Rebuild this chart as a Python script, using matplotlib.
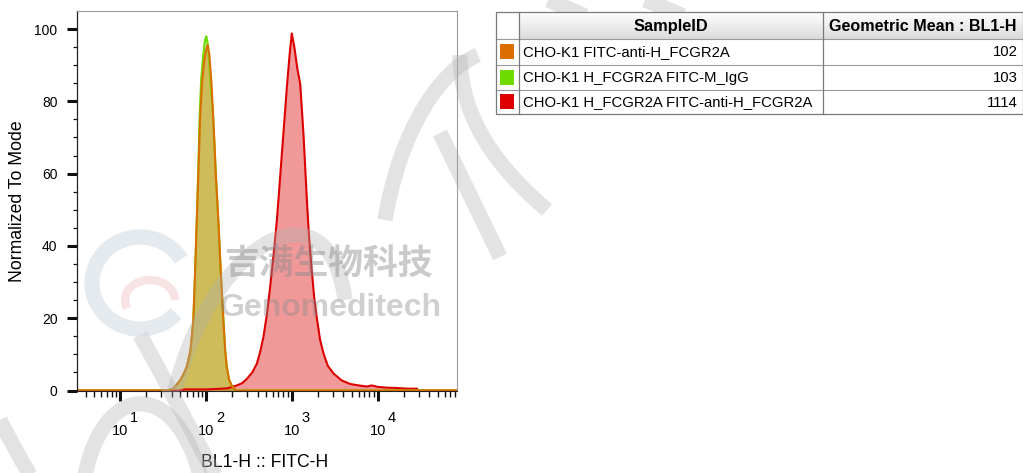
import numpy as np
import matplotlib
matplotlib.use("Agg")
import matplotlib.pyplot as plt
from matplotlib.patches import Rectangle, Arc, PathPatch
from matplotlib.path import Path
import matplotlib.transforms as mtransforms

plt.rcParams['font.family'] = ['Liberation Sans', 'DejaVu Sans']

# histogram traces, x in log10(BL1-H), y in % of mode
orange_logx = [0.50, 1.55, 1.62, 1.70, 1.74, 1.777, 1.82, 1.854, 1.875, 1.894, 1.915, 1.932,
               1.955, 1.98, 2.00, 2.02, 2.04, 2.065, 2.087, 2.115, 2.145, 2.175, 2.204,
               2.225, 2.243, 2.27, 2.30, 2.33, 2.36, 4.93]
orange_y = [0, 0, 0.5, 2.8, 4.5, 6.5, 11, 19.4, 33, 47, 62, 74.8,
            85, 91, 94, 95.6, 93, 85, 74.8, 60, 47, 32, 19.4,
            11, 6.5, 3, 1.4, 0.4, 0, 0]

green_logx = [0.50, 1.55, 1.62, 1.70, 1.74, 1.777, 1.82, 1.854, 1.875, 1.894, 1.912, 1.926,
              1.945, 1.97, 1.99, 2.005, 2.025, 2.05, 2.087, 2.115, 2.145, 2.175, 2.204,
              2.225, 2.243, 2.27, 2.30, 2.33, 2.36, 4.93]
green_y = [0, 0, 0.5, 2.8, 4.5, 6.5, 11, 19.4, 33, 47, 62, 75,
           86, 93, 97, 98, 95.5, 87, 74.8, 60, 47, 32, 19.4,
           11, 6.5, 3, 1.4, 0.4, 0, 0]

red_logx = [0.50, 1.70, 1.75, 2.0, 2.1, 2.25, 2.36, 2.42, 2.477, 2.54, 2.593, 2.63, 2.67,
            2.71, 2.748, 2.79, 2.826, 2.855, 2.885, 2.915, 2.943, 2.975, 3.00, 3.03,
            3.065, 3.098, 3.136, 3.176, 3.20, 3.23, 3.26, 3.29, 3.33, 3.37, 3.42, 3.49,
            3.58, 3.68, 3.78, 3.875, 3.93, 4.00, 4.10, 4.22, 4.35, 4.458, 4.47, 4.93]
red_y = [0, 0, 0.3, 0.3, 0.4, 0.6, 1.4, 2.0, 3.2, 5, 7.4, 10.5, 14.8,
         21, 28.6, 38, 47, 56, 65.6, 75, 84, 93, 98.8, 95,
         89, 84.9, 71, 52.6, 43, 34, 26, 20.3, 14, 10.2, 6.8, 4.6,
         2.8, 1.8, 1.4, 1.1, 1.4, 1.0, 0.8, 0.7, 0.5, 0.5, 0, 0]

sample_ids = ["CHO-K1 FITC-anti-H_FCGR2A",
              "CHO-K1 H_FCGR2A FITC-M_IgG",
              "CHO-K1 H_FCGR2A FITC-anti-H_FCGR2A"]
geo_means = ["102", "103", "1114"]
sample_colors = ["#dc6e00", "#6edc00", "#dc0000"]

W, H = 1023, 473
fig = plt.figure(figsize=(W / 100, H / 100), dpi=100)
ax = fig.add_axes([77.3 / W, 1 - 390.5 / H, 380 / W, 379.5 / H])

# draw red first, then green, orange on top
series = [(red_logx, red_y, sample_colors[2]),
          (green_logx, green_y, sample_colors[1]),
          (orange_logx, orange_y, sample_colors[0])]
for lx, yy, c in series:
    xx = np.power(10.0, lx)
    ax.fill_between(xx, yy, 0, color=c, alpha=0.4, lw=0)
    ax.plot(xx, yy, color=c, lw=1.5, solid_joinstyle='round')

ax.set_xscale('log')
ax.set_xlim(10 ** 0.503, 10 ** 4.927)
ax.set_ylim(0, 105)

ax.set_yticks([0, 20, 40, 60, 80, 100])
ax.set_yticks(np.arange(5, 105, 5), minor=True)
ax.tick_params(axis='y', which='major', direction='out', length=7.2, width=2.2,
               pad=7, labelsize=10, color='#111111')
ax.tick_params(axis='y', which='minor', direction='out', length=2.6, width=0.9, color='#111111')

ax.set_xticks([10, 100, 1000, 10000])
ax.xaxis.set_minor_locator(matplotlib.ticker.LogLocator(base=10, subs=np.arange(2, 10)))
ax.xaxis.set_minor_formatter(matplotlib.ticker.NullFormatter())
ax.set_xticklabels([])
ax.tick_params(axis='x', which='major', direction='out', length=7.5, width=2.2, color='#111111')
ax.tick_params(axis='x', which='minor', direction='out', length=4.3, width=1.0, color='#111111')

for side in ['top', 'right']:
    ax.spines[side].set_color('#9a9a9a')
    ax.spines[side].set_linewidth(0.8)
ax.spines['left'].set_color('#222222')
ax.spines['left'].set_linewidth(0.9)
ax.spines['bottom'].set_color('#222222')

# decade labels like 10^1 with a large raised exponent
trans = mtransforms.blended_transform_factory(ax.transData, ax.transAxes)
for d in [1, 2, 3, 4]:
    ax.annotate("10", xy=(10 ** d, 0), xycoords=trans, xytext=(0, -29.5),
                textcoords='offset points', ha='center', va='center', fontsize=10.5)
    ax.annotate(str(d), xy=(10 ** d, 0), xycoords=trans, xytext=(10.2, -20),
                textcoords='offset points', ha='center', va='center', fontsize=10.5)

fig.text(18 / W, 1 - 201 / H, "Normalized To Mode", rotation=90, ha='center', va='center', fontsize=12.7)
fig.text(265 / W, 1 - 462 / H, "BL1-H :: FITC-H", ha='center', va='center', fontsize=12.7)

# overlay axes in pixel units for the table and watermark
ov = fig.add_axes([0, 0, 1, 1], zorder=5)
ov.set_xlim(0, W)
ov.set_ylim(H, 0)
ov.axis('off')
ov.patch.set_alpha(0)

# watermark: logo, company name and faint hand-drawn strokes
ov.add_patch(Arc((140, 283), 96, 92, theta1=40, theta2=330, lw=11, color='#d5dce3', alpha=0.6, zorder=0.5))
ov.add_patch(Arc((150, 300), 50, 40, theta1=160, theta2=360, lw=6, color='#f0c8c8', alpha=0.5, zorder=0.5))
ov.text(329, 263, "吉满生物科技", ha='center', va='center', fontsize=25, fontweight='bold',
        color='#8a8a8a', alpha=0.45, family=['Noto Sans CJK SC', 'DejaVu Sans'], zorder=0.6)
ov.text(331, 308, "Genomeditech", ha='center', va='center', fontsize=23, fontweight='bold',
        color='#8a8a8a', alpha=0.4, zorder=0.6)

strokes = [
    [(0, 420), (10, 440), (20, 458), (30, 475)],
    [(85, 475), (105, 380), (175, 380), (200, 475)],
    [(140, 335), (165, 380), (190, 428), (215, 475)],
    [(175, 390), (215, 235), (330, 180), (345, 300)],
    [(385, 220), (400, 130), (440, 70), (478, 55)],
    [(460, 55), (460, 120), (500, 170), (547, 210)],
    [(440, 133), (460, 175), (480, 215), (500, 257)],
    [(548, 0), (560, 5), (572, 10), (585, 16)],
    [(645, 0), (658, 5), (670, 10), (683, 16)],
]
for pts in strokes:
    path = Path(pts, [Path.MOVETO, Path.CURVE4, Path.CURVE4, Path.CURVE4])
    ov.add_patch(PathPatch(path, fill=False, ec='#b0b0b0', lw=11, alpha=0.35,
                           capstyle='butt', zorder=0.4))

# table
x0, x1, x2, x3 = 496, 518.5, 822.7, 1022.5
row_edges = [12.3, 39, 65, 90, 114]
ov.add_patch(Rectangle((x0, row_edges[0]), x3 - x0, row_edges[-1] - row_edges[0],
                       fc='white', ec='none', zorder=0.9))
grad = np.linspace(1.0, 0.86, 50).reshape(-1, 1)
ov.imshow(np.dstack([grad, grad, grad]), extent=(x1, x3, row_edges[1], row_edges[0]),
          aspect='auto', interpolation='bilinear', zorder=1)
ov.add_patch(Rectangle((x0, row_edges[0]), x3 - x0, row_edges[-1] - row_edges[0],
                       fill=False, ec='#7a7a7a', lw=0.9, zorder=3))
for yy in row_edges[1:-1]:
    ov.plot([x0, x3], [yy, yy], color='#9a9a9a', lw=0.8, zorder=2)
for xx in [x1, x2]:
    ov.plot([xx, xx], [row_edges[0], row_edges[-1]], color='#7a7a7a', lw=0.9, zorder=2)
ov.text((x1 + x2) / 2, (row_edges[0] + row_edges[1]) / 2 + 0.5, "SampleID",
        ha='center', va='center', fontsize=11.8, fontweight='bold', zorder=4)
ov.text((x2 + x3) / 2, (row_edges[0] + row_edges[1]) / 2 + 0.5, "Geometric Mean : BL1-H",
        ha='center', va='center', fontsize=11.6, fontweight='bold', zorder=4)
for i, (sid, gm, c) in enumerate(zip(sample_ids, geo_means, sample_colors)):
    yc = (row_edges[i + 1] + row_edges[i + 2]) / 2
    ov.add_patch(Rectangle((500, yc - 7.5), 14, 15, color=c, lw=0, zorder=4))
    ov.text(523, yc + 0.5, sid, ha='left', va='center', fontsize=10.7, zorder=4)
    ov.text(1018, yc + 0.5, gm, ha='right', va='center', fontsize=10.7, zorder=4)

ov.set_xlim(0, W)
ov.set_ylim(H, 0)

fig.savefig("out.png", dpi=100)
